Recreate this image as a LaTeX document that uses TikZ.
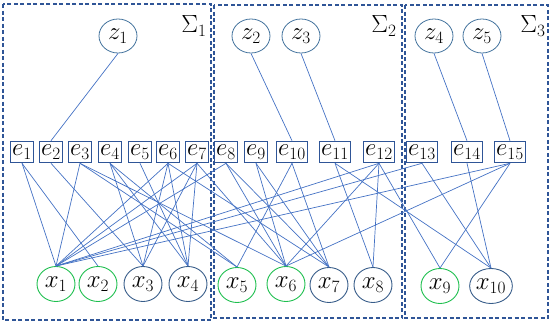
\documentclass[tikz,border=0pt]{standalone}
\usetikzlibrary{shapes.geometric}
\definecolor{boxblue}{HTML}{2F5597}
\definecolor{lineblue}{HTML}{4472C4}
\definecolor{circblue}{HTML}{41719C}
\definecolor{grn}{HTML}{1FBF4F}
\definecolor{xdark}{HTML}{385D8A}
\begin{document}
\begin{tikzpicture}[x=1pt,y=-1pt,
  every node/.style={font=\fontsize{23}{26}\selectfont},
  znode/.style={ellipse, draw=circblue, line width=0.8pt, minimum width=38pt, minimum height=34pt, inner sep=0pt},
  xg/.style={ellipse, draw=grn, line width=0.9pt, minimum width=38pt, minimum height=35pt, inner sep=0pt},
  xb/.style={ellipse, draw=xdark, line width=0.9pt, minimum width=38pt, minimum height=35pt, inner sep=0pt},
  enode/.style={rectangle, draw=boxblue, line width=1.6pt, minimum height=21pt, minimum width=23pt, inner sep=0pt},
  ewide/.style={enode, minimum width=31pt},
  link/.style={draw=lineblue, line width=0.7pt},
  sigbox/.style={draw=boxblue, line width=1.5pt, dash pattern=on 4pt off 2.5pt}]
\useasboundingbox (0,0) rectangle (550,324);
% Sigma boxes
\draw[sigbox] (3,4) rectangle (211,320);
\draw[sigbox] (214,5) rectangle (402,318);
\draw[sigbox] (405,5) rectangle (548,318);
\node (s1) at (194,26) {$\Sigma_1$};
\node (s2) at (384,26) {$\Sigma_2$};
\node (s3) at (533,26) {$\Sigma_3$};
% z nodes
\node[znode] (z1) at (118,36) {$z_1$};
\node[znode] (z2) at (251,36) {$z_2$};
\node[znode] (z3) at (301,36) {$z_3$};
\node[znode] (z4) at (434,36) {$z_4$};
\node[znode] (z5) at (482,36) {$z_5$};
% e nodes
\node[enode] (e1) at (22,152) {$e_1$};
\node[enode] (e2) at (51,152) {$e_2$};
\node[enode] (e3) at (80,152) {$e_3$};
\node[enode] (e4) at (110,152) {$e_4$};
\node[enode] (e5) at (140,152) {$e_5$};
\node[enode] (e6) at (168,152) {$e_6$};
\node[enode] (e7) at (197,152) {$e_7$};
\node[enode] (e8) at (226,152) {$e_8$};
\node[enode] (e9) at (256,152) {$e_9$};
\node[ewide] (e10) at (292,152) {$e_{10}$};
\node[ewide] (e11) at (335,152) {$e_{11}$};
\node[ewide] (e12) at (379,152) {$e_{12}$};
\node[ewide] (e13) at (422,152) {$e_{13}$};
\node[ewide] (e14) at (467,152) {$e_{14}$};
\node[ewide] (e15) at (510,152) {$e_{15}$};
% x nodes
\node[xg] (x1) at (56,284) {$x_1$};
\node[xg] (x2) at (98,284) {$x_2$};
\node[xb] (x3) at (143,284) {$x_3$};
\node[xb] (x4) at (188,284) {$x_4$};
\node[xg] (x5) at (237,285) {$x_5$};
\node[xg] (x6) at (286,284) {$x_6$};
\node[xb] (x7) at (329,285) {$x_7$};
\node[xb] (x8) at (373,285) {$x_8$};
\node[xg] (x9) at (440,286) {$x_9$};
\node[xb] (x10) at (491,286) {$x_{10}$};
% z links
\draw[link] (z1.south) -- (e2.north);
\draw[link] (z2.south) -- (e10.north);
\draw[link] (z3.south) -- (e11.north);
\draw[link] (z4.south) -- (e14.north);
\draw[link] (z5.south) -- (e15.north);
% e-x links
\foreach \e/\x in {e1/x1,e1/x2,e2/x3,e3/x1,e3/x5,e3/x6,e4/x3,e4/x4,e4/x5,e5/x4,
  e6/x1,e6/x3,e6/x4,e6/x7,e7/x1,e7/x3,e7/x4,e7/x6,e8/x1,e8/x6,e8/x7,e9/x6,e9/x7,
  e10/x5,e10/x7,e11/x8,e11/x10,e12/x1,e12/x6,e12/x8,e12/x9,e13/x1,e13/x10,e14/x10,
  e15/x1,e15/x6,e15/x9}
  \draw[link] (\e.south) -- (\x.north);
\end{tikzpicture}
\end{document}
